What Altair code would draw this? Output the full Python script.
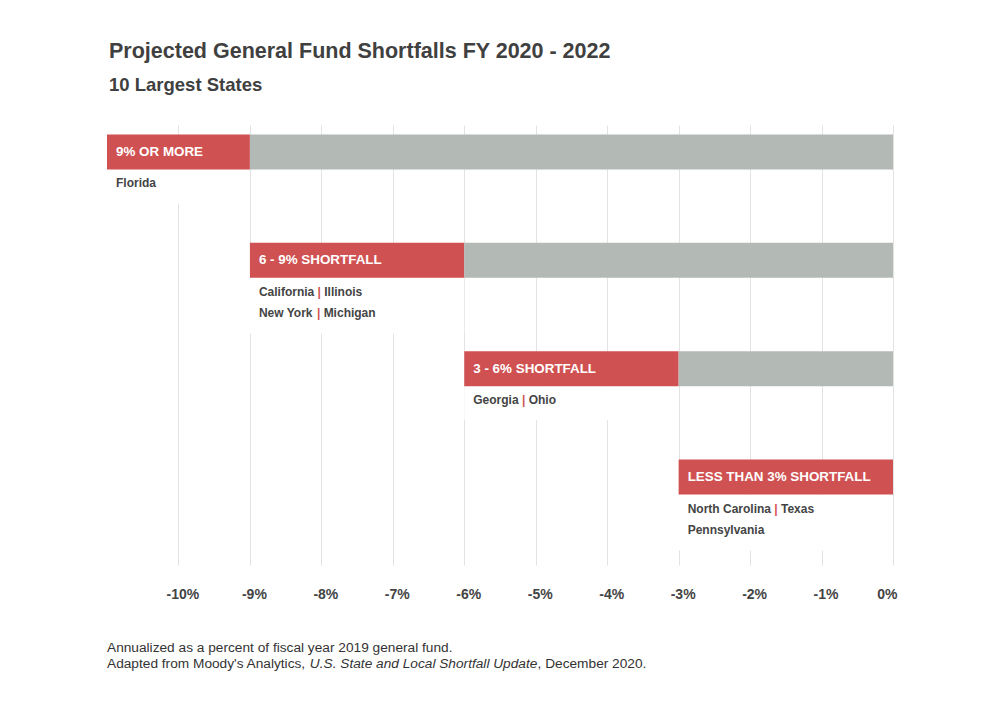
import altair as alt
import pandas as pd

# ---------------- data ----------------
title_text = "Projected General Fund Shortfalls FY 2020 - 2022"
subtitle_text = "10 Largest States"
note_line1 = "Annualized as a percent of fiscal year 2019 general fund."
note_line2_parts = ["Adapted from Moody's Analytics, ", "U.S. State and Local Shortfall Update", ", December 2020."]
note_line2_italic = [False, True, False]

categories = ["9% OR MORE", "6 - 9% SHORTFALL", "3 - 6% SHORTFALL", "LESS THAN 3% SHORTFALL"]
range_low = [-11, -9, -6, -3]
range_high = [-9, -6, -3, 0]
axis_min = -11
axis_max = 0
tick_values = [-10, -9, -8, -7, -6, -5, -4, -3, -2, -1, 0]
state_lines = [
    [["Florida"]],
    [["California", "Illinois"], ["New York", "Michigan"]],
    [["Georgia", "Ohio"]],
    [["North Carolina", "Texas"], ["Pennsylvania"]],
]

# ---------------- style ----------------
RED = "#d05151"
GRAY = "#b3bab5"
TEXT = "#444444"
NOTE = "#333333"
GRID = "#e3e3e3"
FONT = "Liberation Sans"
W, H = 786, 440
PX_PER_UNIT = W / (axis_max - axis_min)
LABEL_PAD = 9
STATE_SIZE = 12
NOTE_SIZE = 13.7
BAR_SIZE = 35
BAR_OFF = -30.5

# Arial / Liberation Sans advance widths (1/1000 em) used to lay out mixed-colour text
REG = {" ": 278, "'": 191, ",": 278, "-": 333, ".": 278, "|": 260}
BOLD = {" ": 278, "'": 238, ",": 278, "-": 333, ".": 278, "|": 280}
for c in "0123456789":
    REG[c] = 556
    BOLD[c] = 556
REG.update(dict(zip("ABCDEFGHIJKLMNOPQRSTUVWXYZ",
    [667, 667, 722, 722, 667, 611, 778, 722, 278, 500, 667, 556, 833, 722, 778, 667, 778, 722, 667, 611, 722, 667, 944, 667, 667, 611])))
REG.update(dict(zip("abcdefghijklmnopqrstuvwxyz",
    [556, 556, 500, 556, 556, 278, 556, 556, 222, 222, 500, 222, 833, 556, 556, 556, 556, 333, 500, 278, 556, 500, 722, 500, 500, 500])))
BOLD.update(dict(zip("ABCDEFGHIJKLMNOPQRSTUVWXYZ",
    [722, 722, 722, 722, 667, 611, 778, 722, 278, 556, 722, 611, 833, 722, 778, 667, 778, 722, 667, 611, 722, 667, 944, 667, 667, 611])))
BOLD.update(dict(zip("abcdefghijklmnopqrstuvwxyz",
    [556, 611, 556, 611, 556, 333, 611, 611, 278, 278, 556, 278, 889, 611, 611, 611, 611, 389, 556, 333, 611, 556, 778, 556, 556, 500])))


def text_width(s, size, bold=False):
    table = BOLD if bold else REG
    return sum(table.get(ch, 556) for ch in s) * size / 1000.0


# ---------------- tables ----------------
rows = pd.DataFrame({
    "category": categories,
    "low": range_low,
    "high": range_high,
    "nlines": [len(l) for l in state_lines],
})

seg_records = []
for cat, lo, hi in zip(categories, range_low, range_high):
    seg_records.append({"category": cat, "start": lo, "end": hi, "kind": "range"})
    if hi < axis_max:
        seg_records.append({"category": cat, "start": hi, "end": axis_max, "kind": "rest"})
segments = pd.DataFrame(seg_records)

piece_records = []
for cat, lo, lines in zip(categories, range_low, state_lines):
    for li, names in enumerate(lines):
        cursor = 0.0
        for j, name in enumerate(names):
            if j > 0:
                sep_x = cursor + text_width(" ", STATE_SIZE, True)
                piece_records.append({"category": cat, "line": li, "text": "|", "kind": "sep",
                                      "x": lo + (LABEL_PAD + sep_x) / PX_PER_UNIT})
                cursor += text_width(" | ", STATE_SIZE, True)
            piece_records.append({"category": cat, "line": li, "text": name, "kind": "name",
                                  "x": lo + (LABEL_PAD + cursor) / PX_PER_UNIT})
            cursor += text_width(name, STATE_SIZE, True)
pieces = pd.DataFrame(piece_records)

# ---------------- encodings ----------------
xscale = alt.Scale(domain=[axis_min, axis_max], nice=False, zero=False)
xaxis = alt.Axis(values=tick_values, labelExpr="datum.value + '%'", grid=True, gridColor=GRID,
                 gridWidth=1, domain=False, ticks=False, tickSize=0, labelFont=FONT,
                 labelFontSize=14, labelFontWeight="bold", labelColor=TEXT, labelPadding=22,
                 labelOffset=4, title=None)
yscale = alt.Scale(domain=categories, paddingInner=0, paddingOuter=0.03)


def X(field):
    return alt.X(field, type="quantitative", scale=xscale, axis=xaxis)


Y = alt.Y("category:N", scale=yscale, axis=None, sort=categories)

masks = []
for n, h in [(1, 34), (2, 56)]:
    masks.append(
        alt.Chart(rows).transform_filter(alt.datum.nlines == n)
        .mark_bar(color="white", size=h, yOffset=BAR_OFF + BAR_SIZE / 2 + h / 2)
        .encode(x=X("low"), x2="high", y=Y)
    )

bar_layers = []
for kind, col in [("range", RED), ("rest", GRAY)]:
    bar_layers.append(
        alt.Chart(segments).transform_filter(alt.datum.kind == kind)
        .mark_bar(size=BAR_SIZE, yOffset=BAR_OFF, color=col)
        .encode(x=X("start"), x2="end", y=Y)
    )

bar_labels = alt.Chart(rows).mark_text(
    align="left", baseline="middle", dx=LABEL_PAD, yOffset=BAR_OFF, font=FONT,
    fontSize=13.4, fontWeight="bold", color="white",
).encode(x=X("low"), y=Y, text="category:N")

state_layers = []
for li, off in [(0, 1.0), (1, 22.5)]:
    for kind, col in [("name", TEXT), ("sep", RED)]:
        state_layers.append(
            alt.Chart(pieces)
            .transform_filter((alt.datum.line == li) & (alt.datum.kind == kind))
            .mark_text(align="left", baseline="middle", yOffset=off, font=FONT,
                       fontSize=STATE_SIZE, fontWeight="bold", color=col)
            .encode(x=X("x"), y=Y, text="text:N")
        )


def free_text(s, x, y, size, weight="normal", style="normal", color=TEXT):
    return alt.Chart(alt.Data(values=[{"t": s}])).mark_text(
        align="left", baseline="alphabetic", font=FONT, fontSize=size,
        fontWeight=weight, fontStyle=style, color=color,
    ).encode(x=alt.value(x), y=alt.value(y), text="t:N")


title = free_text(title_text, 2, -67, 21.5, weight="bold", color="#404040")
subtitle = free_text(subtitle_text, 2, -34, 18.5, weight="bold", color="#404040")
note1 = free_text(note_line1, 0, 527, NOTE_SIZE, color=NOTE)
note2 = []
cur = 0.0
for part, ital in zip(note_line2_parts, note_line2_italic):
    note2.append(free_text(part, cur, 543, NOTE_SIZE, style="italic" if ital else "normal", color=NOTE))
    cur += text_width(part, NOTE_SIZE)

chart = alt.layer(
    *masks, *bar_layers, bar_labels, *state_layers, title, subtitle, note1, *note2
).properties(
    width=W, height=H,
    autosize=alt.AutoSizeParams(type="none"),
    padding={"left": 99, "top": 117, "right": 91, "bottom": 130},
    background="white",
).configure_view(stroke=None)

chart.save("out.html", embed_options={"renderer": "svg", "actions": False})
